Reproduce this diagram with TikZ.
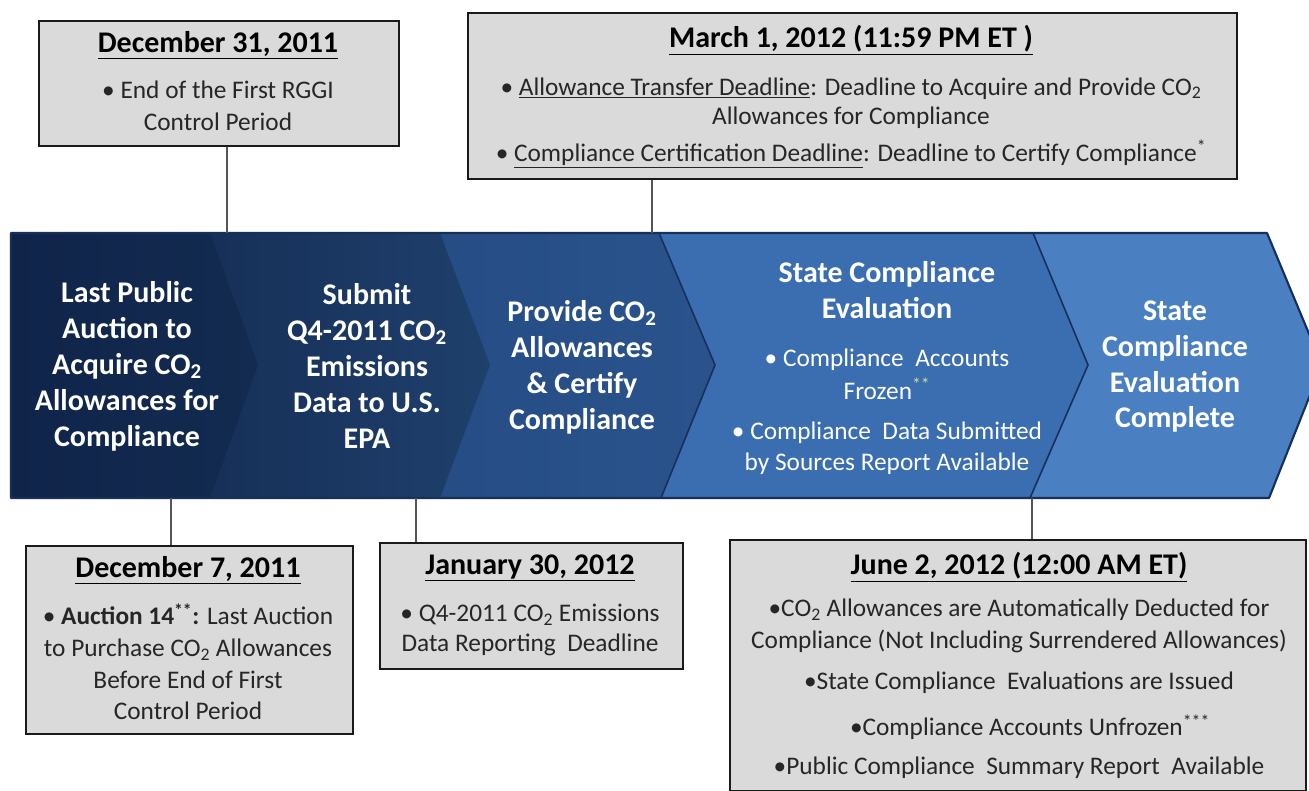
\documentclass[tikz,border=0pt]{standalone}
\usepackage{fontspec}
\setmainfont{Carlito}
\definecolor{boxfill}{HTML}{DADADA}
\definecolor{boxline}{HTML}{1A1A1A}
\definecolor{txt}{HTML}{262626}
\definecolor{navyA}{HTML}{10244A}
\definecolor{navyA2}{HTML}{132B50}
\definecolor{navyB}{HTML}{152E56}
\definecolor{navyB2}{HTML}{1F406C}
\definecolor{navyC}{HTML}{254B82}
\definecolor{navyC2}{HTML}{2A538D}
\definecolor{blueD}{HTML}{3A6EB1}
\definecolor{blueE}{HTML}{4A80C1}
\definecolor{bandline}{HTML}{16305A}
\definecolor{conncol}{HTML}{555555}
\definecolor{starcol}{HTML}{C9DDA0}
\newcommand\titlef{\fontsize{22.5}{27}\selectfont\bfseries}
\newcommand\bodyf{\fontsize{19}{24}\selectfont}
\newcommand\bandf{\fontsize{22.5}{27}\selectfont\bfseries}
\newcommand\cotwo{CO\textsubscript{2}}
\tikzset{
  datebox/.style={draw=boxline, line width=1.6pt, fill=boxfill, inner sep=0pt},
  ttl/.style={font=\titlef, text=black, inner sep=0pt, align=center},
  bodytxt/.style={font=\bodyf, text=txt, inner sep=0pt, align=center},
  bandtxt/.style={font=\bandf, text=white, inner sep=0pt, align=center},
  bandsub/.style={font=\fontsize{19}{24}\selectfont, text=white, inner sep=0pt, align=center},
  conn/.style={draw=conncol, line width=0.8pt},
  chevline/.style={draw=bandline, line width=1.2pt, line join=round}
}
\begin{document}
\begin{tikzpicture}[x=0.75pt,y=-0.75pt]
\useasboundingbox (0,0) rectangle (1309,791);
\clip (0,0) rectangle (1309,791);
\fill[white] (0,0) rectangle (1309,791);

% ---- band of chevrons ----
\shade[left color=navyC, right color=navyC2] (380,233) -- (659,233) -- (715,365) -- (661,498) -- (380,498) -- cycle;
\shade[left color=navyB, right color=navyB2] (180,233) -- (440,233) -- (490,365) -- (440,498) -- (180,498) -- cycle;
\shade[left color=navyA, right color=navyA2] (11,233) -- (210,233) -- (258,365) -- (210,498) -- (11,498) -- cycle;
\fill[blueD] (659,233) -- (1033,233) -- (1088,365) -- (1030,498) -- (661,498) -- (715,365) -- cycle;
\fill[blueE] (1033,233) -- (1267,233) -- (1322,365) -- (1269,498) -- (1030,498) -- (1088,365) -- cycle;
\draw[chevline] (659,233) -- (715,365) -- (661,498);
\draw[chevline] (1033,233) -- (1088,365) -- (1030,498);
\draw[chevline, line width=1.6pt] (11,233) -- (1267,233) -- (1322,365) -- (1269,498) -- (11,498) -- cycle;

\node[bandtxt] (c1) at (127,366) {Last Public\\Auction to\\Acquire \cotwo\\Allowances for\\Compliance};
\node[bandtxt] (c2) at (367,366) {Submit\\Q4-2011 \cotwo\\Emissions\\Data to U.S.\\EPA};
\node[bandtxt] (c3) at (582,367) {Provide \cotwo\\Allowances\\\& Certify\\Compliance};
\node[bandtxt, font=\fontsize{22.5}{26.5}\selectfont\bfseries] (c4h) at (887,290) {State Compliance\\Evaluation};
\node[bandsub, font=\fontsize{19}{24.75}\selectfont] (c4a) at (887,374) {• Compliance\ \ Accounts\\Frozen\textsuperscript{\textcolor{starcol}{**}}};
\node[bandsub, font=\fontsize{19}{23.25}\selectfont] (c4b) at (887,448) {• Compliance\ \ Data Submitted\\by Sources Report Available};
\node[bandtxt, font=\fontsize{22.5}{26.75}\selectfont\bfseries] (c5) at (1175,367) {State\\Compliance\\Evaluation\\Complete};

% ---- band anchor points for connectors ----
\coordinate (t1) at (227,233);
\coordinate (t2) at (652,233);
\coordinate (u1) at (171,498);
\coordinate (u2) at (416,498);
\coordinate (u3) at (1032,498);

% ---- top boxes ----
\node[datebox, anchor=north west, minimum width=270pt, minimum height=93.75pt] (b1) at (38,20) {};
\node[ttl] (b1t) at (218,45) {\underline{December 31, 2011}};
\node[bodytxt] (b1b) at (218,106) {• End of the First RGGI\\Control Period};

\node[datebox, anchor=north west, minimum width=576.75pt, minimum height=124.5pt] (b2) at (467,12) {};
\node[ttl] (b2t) at (851,40) {\underline{March 1, 2012 (11:59 PM ET )}};
\node[bodytxt, font=\fontsize{19}{22}\selectfont] (b2a) at (851,103) {• \underline{Allowance Transfer Deadline}: Deadline to Acquire and Provide \cotwo\\Allowances for Compliance};
\node[bodytxt] (b2b) at (851,154) {• \underline{Compliance Certification Deadline}: Deadline to Certify Compliance\textsuperscript{*}};

% ---- bottom boxes ----
\node[datebox, anchor=north west, minimum width=245.25pt, minimum height=141pt] (b3) at (25,545) {};
\node[ttl] (b3t) at (188,570) {\underline{December 7, 2011}};
\node[bodytxt, font=\fontsize{19}{23.75}\selectfont] (b3b) at (188,662) {• \textbf{Auction 14\textsuperscript{**}:} Last Auction\\to Purchase \cotwo{} Allowances\\Before End of First\\Control Period};

\node[datebox, anchor=north west, minimum width=227.25pt, minimum height=94.5pt] (b4) at (379,542) {};
\node[ttl] (b4t) at (530,568) {\underline{January 30, 2012}};
\node[bodytxt, font=\fontsize{19}{22.5}\selectfont] (b4b) at (530,630) {• Q4-2011 \cotwo{} Emissions\\Data Reporting\ \ Deadline};

\node[datebox, anchor=north west, minimum width=432pt, minimum height=188.25pt] (b5) at (729,539) {};
\node[ttl] (b5t) at (1019,567) {\underline{June 2, 2012 (12:00 AM ET)}};
\node[bodytxt] (b5a) at (1019,626) {•\cotwo{} Allowances are Automatically Deducted for\\Compliance (Not Including Surrendered Allowances)};
\node[bodytxt] (b5b) at (1019,683) {•State Compliance\ \ Evaluations are Issued};
\node[bodytxt] (b5c) at (1030,727) {•Compliance Accounts Unfrozen\textsuperscript{***}};
\node[bodytxt] (b5d) at (1019,768) {•Public Compliance\ \ Summary Report\ \ Available};

% ---- connectors ----
\draw[conn] (b1.south -| t1) -- (t1);
\draw[conn] (b2.south -| t2) -- (t2);
\draw[conn] (u1) -- (b3.north -| u1);
\draw[conn] (u2) -- (b4.north -| u2);
\draw[conn] (u3) -- (b5.north -| u3);
\end{tikzpicture}
\end{document}
